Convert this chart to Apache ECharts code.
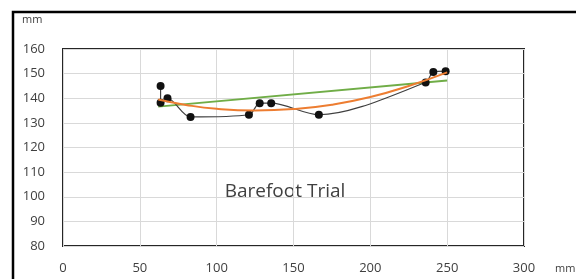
<!DOCTYPE html>
<html>
<head>
<meta charset="utf-8">
<script src="https://cdn.jsdelivr.net/npm/echarts@6/dist/echarts.min.js"></script>
<style>
  html, body { margin: 0; padding: 0; background: #fff; }
  #chart { width: 576px; height: 279px; }
</style>
</head>
<body>
<div id="chart"></div>
<script>
// measured points (mm), in the order the black line joins them
const trialX = [63.5, 63.5, 68, 83, 121, 128, 135.5, 166.5, 236, 241, 249];
const trialY = [145, 138.2, 140, 132.4, 133.3, 138, 138, 133.3, 146.4, 150.7, 151];

// linear trend (green), read at its two ends
const linX = [62, 250];
const linY = [136.6, 147.2];

// curved trend (orange)
const polyX = [62, 80, 100, 125, 150, 175, 200, 225, 250];
const polyY = [139.5, 137.3, 135.7, 135, 135.6, 137.4, 140.5, 145, 150.5];

const xTicks = { min: 0, max: 300, step: 50 };
const yTicks = { min: 80, max: 160, step: 10 };

const zip = (xs, ys) => xs.map((x, i) => [x, ys[i]]);
const txt = "#404040";
const font = "Open Sans";

const chart = echarts.init(document.getElementById("chart"));
chart.setOption({
  animation: false,
  grid: { left: 63, top: 49, width: 461, height: 197, show: true, borderColor: "#262626", borderWidth: 2 },
  xAxis: {
    type: "value", min: xTicks.min, max: xTicks.max, interval: xTicks.step,
    axisLine: { show: false }, axisTick: { show: false },
    axisLabel: { color: txt, fontSize: 13, fontFamily: font, margin: 16 },
    splitLine: { lineStyle: { color: "#d9d9d9", width: 1 } },
  },
  yAxis: {
    type: "value", min: yTicks.min, max: yTicks.max, interval: yTicks.step,
    axisLine: { show: false }, axisTick: { show: false },
    axisLabel: { color: txt, fontSize: 13, fontFamily: font, margin: 18 },
    splitLine: { lineStyle: { color: "#d9d9d9", width: 1 } },
  },
  graphic: [
    { type: "rect", shape: { x: 13, y: 12, width: 620, height: 320 },
      style: { fill: null, stroke: "#000", lineWidth: 2.5 }, silent: true },
    { type: "text", x: 22, y: 20,
      style: { text: "mm", fill: txt, font: `11px "${font}"`, align: "left", verticalAlign: "middle" } },
    { type: "text", x: 555, y: 269,
      style: { text: "mm", fill: txt, font: `11px "${font}"`, align: "left", verticalAlign: "middle" } },
    { type: "text", x: 285, y: 192,
      style: { text: "Barefoot Trial", fill: txt, font: `19px "${font}"`, align: "center", verticalAlign: "middle" } },
  ],
  series: [
    { type: "line", data: zip(linX, linY), symbol: "none",
      lineStyle: { color: "#70ad47", width: 1.8 }, z: 2 },
    { type: "line", data: zip(trialX, trialY), smooth: 0.3,
      symbol: "circle", symbolSize: 8, itemStyle: { color: "#111" },
      lineStyle: { color: "#404040", width: 1.2 }, z: 3 },
    { type: "line", data: zip(polyX, polyY), smooth: true, symbol: "none",
      lineStyle: { color: "#ed7d31", width: 2 }, z: 4 },
  ],
});
</script>
</body>
</html>
